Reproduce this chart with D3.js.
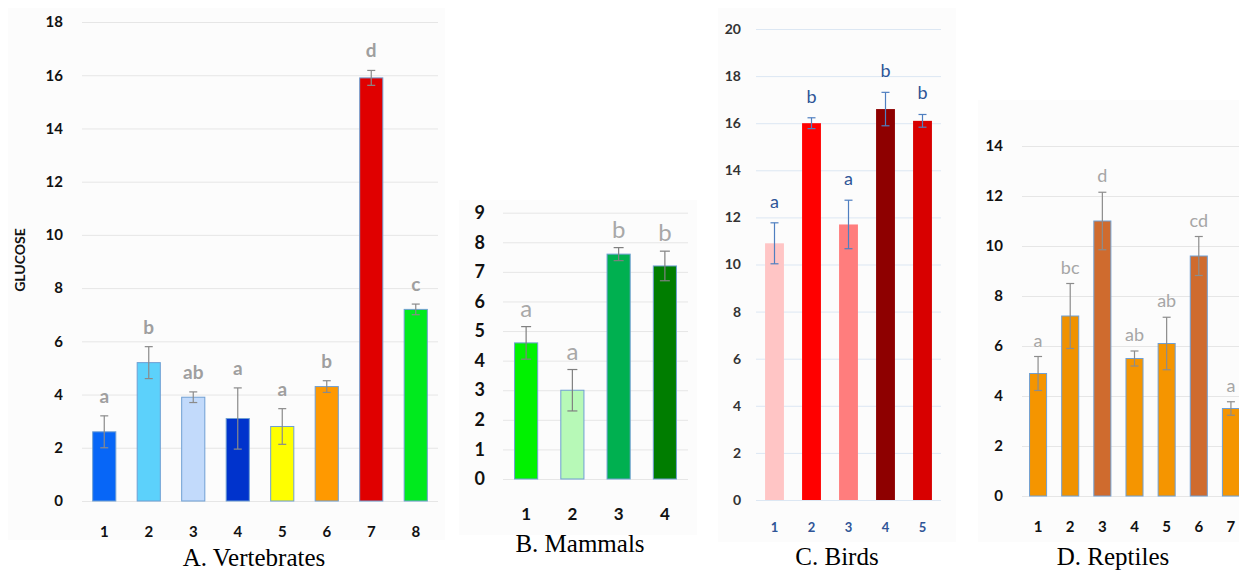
<!DOCTYPE html>
<html>
<head>
<meta charset="utf-8">
<script src="https://cdn.jsdelivr.net/npm/d3@7"></script>
<style>
  body { margin: 0; background: #fff; }
  svg { display: block; }
</style>
</head>
<body>
<div id="chart"></div>
<script>
"use strict";

// A. Vertebrates
const vertCats = ["1", "2", "3", "4", "5", "6", "7", "8"];
const vertMeans = [2.6, 5.2, 3.9, 3.1, 2.8, 4.3, 15.9, 7.2];
const vertErrs = [0.6, 0.6, 0.2, 1.15, 0.67, 0.22, 0.28, 0.2];
const vertLetters = ["a", "b", "ab", "a", "a", "b", "d", "c"];
const vertTicks = [0, 2, 4, 6, 8, 10, 12, 14, 16, 18];
const vertColors = ["#0766f7", "#5cd1fb", "#c2dafb", "#0033cc", "#ffff00", "#ff9900", "#e00000", "#00ea1e"];

// B. Mammals
const mamCats = ["1", "2", "3", "4"];
const mamMeans = [4.6, 3.0, 7.6, 7.2];
const mamErrs = [0.55, 0.7, 0.22, 0.5];
const mamLetters = ["a", "a", "b", "b"];
const mamTicks = [0, 1, 2, 3, 4, 5, 6, 7, 8, 9];
const mamColors = ["#00f200", "#b7f9b7", "#00b050", "#007d00"];

// C. Birds
const birdCats = ["1", "2", "3", "4", "5"];
const birdMeans = [10.9, 16.0, 11.7, 16.6, 16.1];
const birdErrs = [0.87, 0.23, 1.03, 0.71, 0.27];
const birdLetters = ["a", "b", "a", "b", "b"];
const birdTicks = [0, 2, 4, 6, 8, 10, 12, 14, 16, 18, 20];
const birdColors = ["#ffc5c5", "#ff0000", "#ff7d7d", "#8e0000", "#d80000"];

// D. Reptiles
const repCats = ["1", "2", "3", "4", "5", "6", "7"];
const repMeans = [4.9, 7.2, 11.0, 5.5, 6.1, 9.6, 3.5];
const repErrs = [0.68, 1.3, 1.15, 0.3, 1.05, 0.78, 0.27];
const repLetters = ["a", "bc", "d", "ab", "ab", "cd", "a"];
const repTicks = [0, 2, 4, 6, 8, 10, 12, 14];
const repColors = ["#f59500", "#f09200", "#cf6b2e", "#f59500", "#f59500", "#cf6b2e", "#f59500"];

const width = 1239, height = 572;
const sans = "Lato, 'Open Sans', sans-serif";
const serif = "'Liberation Serif', 'Times New Roman', serif";

const svg = d3.select("#chart").append("svg")
    .attr("width", width)
    .attr("height", height);

function drawPanel(cfg, cats, means, errs, letters, colors, ticks) {
    let g = svg.append("g");

    g.append("rect")
        .attr("x", cfg.bg[0]).attr("y", cfg.bg[1])
        .attr("width", cfg.bg[2] - cfg.bg[0]).attr("height", cfg.bg[3] - cfg.bg[1])
        .attr("fill", "#fcfcfc");

    let y = d3.scaleLinear().domain([0, cfg.yMax]).range([cfg.yBottom, cfg.yTop]);
    let x = d3.scaleBand().domain(cats).range([cfg.x0, cfg.x1])
        .paddingInner(cfg.pad).paddingOuter(cfg.pad / 2);

    // y axis + grid
    let yAxis = g.append("g")
        .attr("transform", "translate(" + cfg.x0 + ",0)")
        .call(d3.axisLeft(y).tickValues(ticks).tickSize(-(cfg.x1 - cfg.x0)).tickPadding(cfg.tickPad));
    yAxis.select(".domain").remove();
    yAxis.selectAll("line").attr("stroke", cfg.grid).attr("stroke-width", 1);
    yAxis.selectAll("text")
        .style("font-family", sans)
        .style("font-size", cfg.tickSize + "px")
        .style("font-weight", cfg.tickWeight)
        .attr("fill", cfg.tickColor);

    // bars
    g.selectAll(".bar")
        .data(means)
        .enter()
        .append("rect")
        .attr("x", (d, i) => x(cats[i]))
        .attr("y", (d) => y(d))
        .attr("width", x.bandwidth())
        .attr("height", (d) => y(0) - y(d))
        .attr("fill", (d, i) => colors[i])
        .attr("stroke", cfg.barStroke)
        .attr("stroke-width", cfg.barStroke === "none" ? 0 : 1);

    // error bars
    let cx = (i) => x(cats[i]) + x.bandwidth() / 2;
    let eb = g.selectAll(".err")
        .data(means)
        .enter()
        .append("g")
        .attr("stroke", cfg.errColor)
        .attr("stroke-width", 1.2);
    eb.append("line")
        .attr("x1", (d, i) => cx(i)).attr("x2", (d, i) => cx(i))
        .attr("y1", (d, i) => y(d + errs[i])).attr("y2", (d, i) => y(d - errs[i]));
    eb.append("line")
        .attr("x1", (d, i) => cx(i) - cfg.cap).attr("x2", (d, i) => cx(i) + cfg.cap)
        .attr("y1", (d, i) => y(d + errs[i])).attr("y2", (d, i) => y(d + errs[i]));
    eb.append("line")
        .attr("x1", (d, i) => cx(i) - cfg.cap).attr("x2", (d, i) => cx(i) + cfg.cap)
        .attr("y1", (d, i) => y(d - errs[i])).attr("y2", (d, i) => y(d - errs[i]));

    // significance letters
    g.selectAll(".letter")
        .data(means)
        .enter()
        .append("text")
        .attr("x", (d, i) => cx(i))
        .attr("y", (d, i) => y(d + errs[i]) - cfg.letterOff)
        .attr("text-anchor", "middle")
        .style("font-family", sans)
        .style("font-size", cfg.letterSize + "px")
        .style("font-weight", cfg.letterWeight)
        .attr("fill", cfg.letterColor)
        .text((d, i) => letters[i]);

    // x axis labels
    let xAxis = g.append("g")
        .attr("transform", "translate(0," + cfg.yBottom + ")")
        .call(d3.axisBottom(x).tickSize(0));
    xAxis.select(".domain").remove();
    xAxis.selectAll("text")
        .attr("y", cfg.xLabelBase - cfg.yBottom)
        .attr("dy", null)
        .style("font-family", sans)
        .style("font-size", cfg.xLabelSize + "px")
        .style("font-weight", "bold")
        .attr("fill", cfg.xLabelColor);

    // panel title
    g.append("text")
        .attr("x", cfg.titleX)
        .attr("y", cfg.titleY)
        .attr("text-anchor", "middle")
        .style("font-family", serif)
        .style("font-size", "25px")
        .attr("fill", "#000")
        .text(cfg.title);
}

drawPanel({
    title: "A. Vertebrates", titleX: 254, titleY: 566,
    bg: [8, 8, 445, 540],
    x0: 82, x1: 438, yBottom: 501, yTop: 22, yMax: 18, pad: 0.48,
    grid: "#e6e6e6", tickPad: 19, tickSize: 15, tickWeight: "bold", tickColor: "#111",
    barStroke: "#6f9fd3", errColor: "#8a8a8a", cap: 4,
    letterOff: 13, letterSize: 19, letterWeight: "bold", letterColor: "#9f9f9f",
    xLabelBase: 537, xLabelSize: 15, xLabelColor: "#111"
}, vertCats, vertMeans, vertErrs, vertLetters, vertColors, vertTicks);

svg.append("text")
    .attr("transform", "translate(25,260) rotate(-90)")
    .attr("text-anchor", "middle")
    .style("font-family", sans)
    .style("font-size", "14px")
    .style("font-weight", "bold")
    .attr("fill", "#111")
    .text("GLUCOSE");

drawPanel({
    title: "B. Mammals", titleX: 580, titleY: 552,
    bg: [459, 200, 697, 535],
    x0: 503, x1: 688, yBottom: 479, yTop: 212.7, yMax: 9, pad: 0.5,
    grid: "#e6e6e6", tickPad: 18, tickSize: 18, tickWeight: "bold", tickColor: "#111",
    barStroke: "#6f9fd3", errColor: "#808080", cap: 5,
    letterOff: 10, letterSize: 24, letterWeight: "normal", letterColor: "#a8a8a8",
    xLabelBase: 520, xLabelSize: 17, xLabelColor: "#111"
}, mamCats, mamMeans, mamErrs, mamLetters, mamColors, mamTicks);

drawPanel({
    title: "C. Birds", titleX: 837, titleY: 565,
    bg: [718, 8, 956, 542],
    x0: 756, x1: 941, yBottom: 500, yTop: 29, yMax: 20, pad: 0.49,
    grid: "#dce7f3", tickPad: 15, tickSize: 14, tickWeight: "bold", tickColor: "#333",
    barStroke: "none", errColor: "#4f7fc0", cap: 4,
    letterOff: 15, letterSize: 18, letterWeight: "normal", letterColor: "#2f5597",
    xLabelBase: 532, xLabelSize: 13, xLabelColor: "#2f5597"
}, birdCats, birdMeans, birdErrs, birdLetters, birdColors, birdTicks);

drawPanel({
    title: "D. Reptiles", titleX: 1113, titleY: 565,
    bg: [978, 100, 1239, 542],
    x0: 1022, x1: 1247, yBottom: 496, yTop: 146, yMax: 14, pad: 0.47,
    grid: "#e6e6e6", tickPad: 19, tickSize: 15, tickWeight: "bold", tickColor: "#111",
    barStroke: "#6f9fd3", errColor: "#8c8c8c", cap: 4,
    letterOff: 10, letterSize: 18, letterWeight: "normal", letterColor: "#a6a6a6",
    xLabelBase: 532, xLabelSize: 15, xLabelColor: "#111"
}, repCats, repMeans, repErrs, repLetters, repColors, repTicks);
</script>
</body>
</html>
